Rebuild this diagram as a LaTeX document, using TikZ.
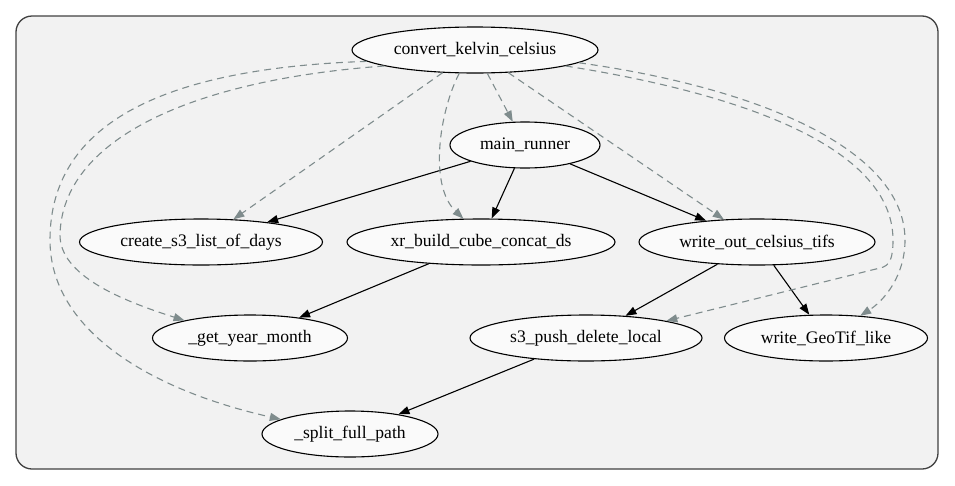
\documentclass[tikz,border=0pt]{standalone}
\usepackage{fontspec}
\setmainfont{Liberation Serif}
\usetikzlibrary{shapes, arrows.meta}
\definecolor{panel}{RGB}{242,242,242}
\definecolor{nodefill}{RGB}{250,250,250}
\definecolor{depgray}{RGB}{127,140,141}
\tikzstyle{func} = [ellipse, minimum height=46pt, inner sep=0pt, text centered, draw=black, line width=1.1pt, fill=nodefill, font=\fontsize{17.6}{20}\selectfont]
\tikzstyle{arrow} = [-{Triangle[length=11pt, width=8pt]}, line width=1.1pt, draw=black]
\tikzstyle{dep} = [-{Triangle[length=11pt, width=8pt]}, line width=1.1pt, draw=depgray, dash pattern=on 7pt off 5pt]

\begin{document}
\begin{tikzpicture}[x=1pt, y=-1pt]

    \useasboundingbox (0, 0) rectangle (955, 485);
    \draw [fill=panel, draw=black!75, line width=1.3pt, rounded corners=16pt] (16, 16) rectangle (938, 469);

    \node (convert) [func, minimum width=246pt] at (475, 50) {convert\_kelvin\_celsius};
    \node (main) [func, minimum width=150pt] at (525, 145) {main\_runner};
    \node (create) [func, minimum width=243pt] at (201, 242) {create\_s3\_list\_of\_days};
    \node (xr) [func, minimum width=268pt] at (481, 242) {xr\_build\_cube\_concat\_ds};
    \node (writeout) [func, minimum width=236pt] at (757, 242) {write\_out\_celsius\_tifs};
    \node (getym) [func, minimum width=195pt] at (250, 338) {\_get\_year\_month};
    \node (s3push) [func, minimum width=232pt] at (586, 338) {s3\_push\_delete\_local};
    \node (geotif) [func, minimum width=203pt] at (826, 338) {write\_GeoTif\_like};
    \node (split) [func, minimum width=176pt] at (350, 434) {\_split\_full\_path};

    \draw [arrow] (main) -- (create);
    \draw [arrow] (main) -- (xr);
    \draw [arrow] (main) -- (writeout);
    \draw [arrow] (xr) -- (getym);
    \draw [arrow] (writeout) -- (s3push);
    \draw [arrow] (writeout) -- (geotif);
    \draw [arrow] (s3push) -- (split);

    \draw [dep] (convert) -- (main);
    \draw [dep] (convert) -- (create);
    \draw [dep] (convert) -- (writeout);
    \draw [dep] (convert.236) .. controls (440, 110) and (428, 185) .. (xr.127);
    \draw [dep] (convert.190) .. controls (190, 80) and (62, 140) .. (60, 235) .. controls (60, 275) and (120, 300) .. (getym.165);
    \draw [dep] (convert.186) .. controls (170, 68) and (50, 120) .. (50, 240) .. controls (50, 330) and (150, 390) .. (split.168);
    \draw [dep] (convert.353) .. controls (760, 88) and (905, 150) .. (905, 240) .. controls (905, 275) and (885, 300) .. (geotif.33);
    \draw [dep] (convert.350) .. controls (750, 95) and (893, 150) .. (893, 240) .. controls (893, 258) and (890, 266) .. (880, 268) -- (s3push.12);

\end{tikzpicture}
\end{document}
